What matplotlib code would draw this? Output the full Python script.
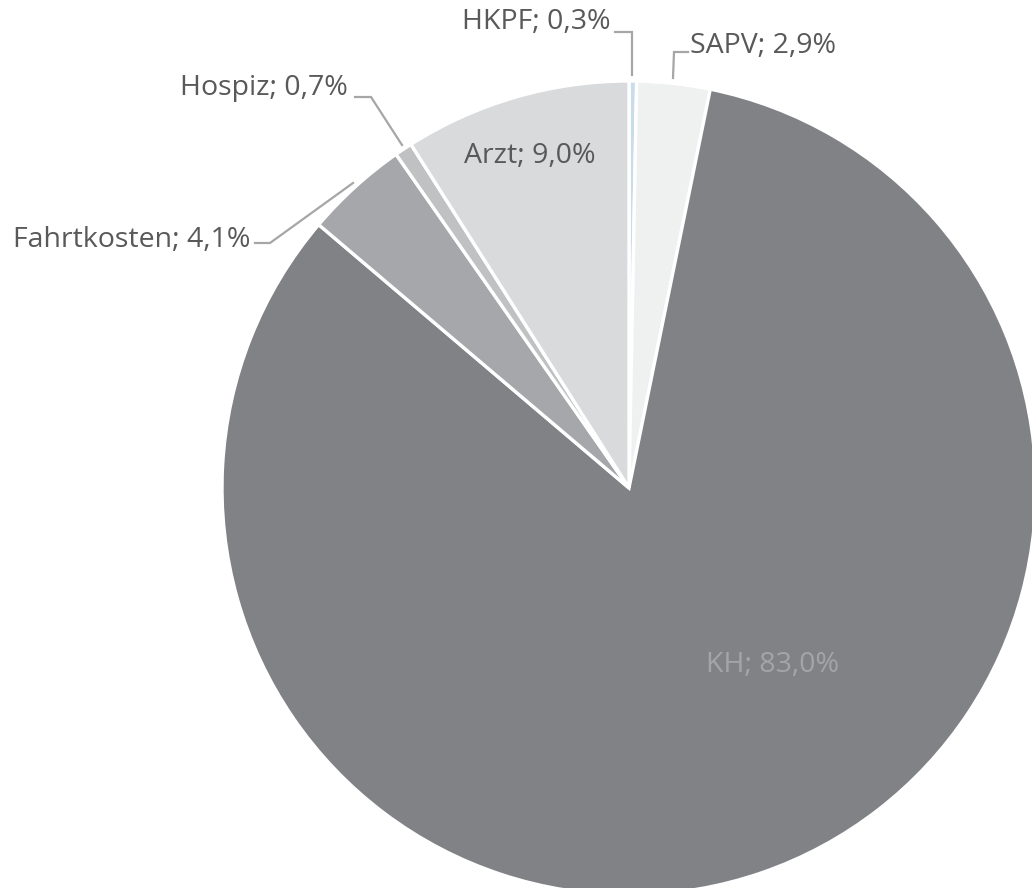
import matplotlib.pyplot as plt

labels = ['HKPF', 'SAPV', 'KH', 'Fahrtkosten', 'Hospiz', 'Arzt']
shares = [0.3, 2.9, 83.0, 4.1, 0.7, 9.0]
colors = ['#c9dcec', '#eff1f1', '#818286', '#a6a7aa', '#c0c1c3', '#d9dadb']

W, H = 1032, 888
fig = plt.figure(figsize=(W / 100, H / 100), dpi=100)
ax = fig.add_axes([0, 0, 1, 1])

cx, cy, r = 629, H - 488, 407
wedges, _ = ax.pie(shares, colors=colors, startangle=90, counterclock=False,
                   center=(cx, cy), radius=r, frame=True,
                   wedgeprops=dict(edgecolor='white', linewidth=2.4))
ax.set_xlim(0, W)
ax.set_ylim(0, H)
ax.set_aspect('equal')
ax.axis('off')

txt = '#595959'
line = '#a6a6a6'
font = 'Open Sans'
fs = 20.5

def lbl(i):
    return f'{labels[i]}; {shares[i]:.1f}%'.replace('.', ',')

# leader lines, points given as (x, y from top)
def leader(pts):
    xs = [p[0] for p in pts]
    ys = [H - p[1] for p in pts]
    ax.plot(xs, ys, color=line, lw=1.6, solid_joinstyle='miter')

ax.text(610, H - 22, lbl(0), ha='right', va='center', fontsize=fs, color=txt, family=font)
leader([(615, 32), (632, 32), (632, 75)])

ax.text(690, H - 46, lbl(1), ha='left', va='center', fontsize=fs, color=txt, family=font)
leader([(673, 78), (674, 52), (688, 52)])

ax.text(348, H - 88, lbl(4), ha='right', va='center', fontsize=fs, color=txt, family=font)
leader([(355, 97), (371, 97), (402, 145)])

ax.text(250, H - 240, lbl(3), ha='right', va='center', fontsize=fs, color=txt, family=font)
leader([(255, 243), (270, 243), (353, 183)])

# labels inside the slices
ax.text(530, H - 156, lbl(5), ha='center', va='center', fontsize=fs, color=txt, family=font)
ax.text(772, H - 665, lbl(2), ha='center', va='center', fontsize=fs, color='#a5a5a8', family=font)

fig.savefig('out.png', dpi=100, facecolor='white')
